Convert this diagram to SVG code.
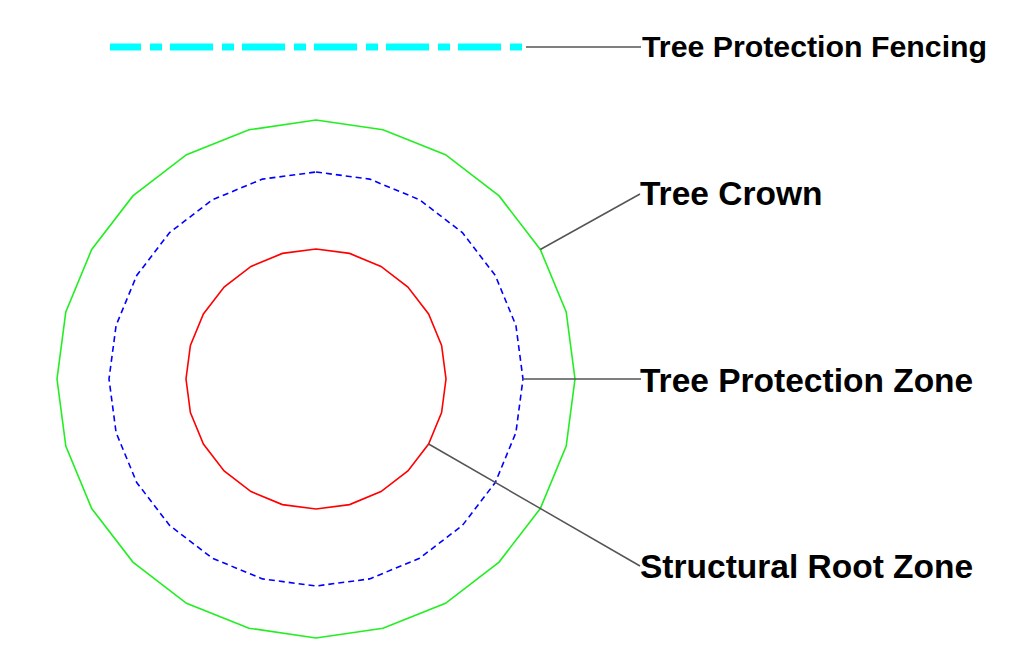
<svg xmlns="http://www.w3.org/2000/svg" width="1018" height="651" viewBox="0 0 1018 651">
<style>
.lbl{font-family:"Liberation Sans",Arial,sans-serif;font-weight:bold;font-size:33.5px;fill:#000}
.lead{stroke:#555;stroke-width:1.5;fill:none}
</style>
<rect width="1018" height="651" fill="#fff"/>
<g id="crown">
<polygon fill="none" stroke="#22ee22" stroke-width="1.6" points="316,120 383,129.8 445.5,154.7 499.1,195.9 540.3,249.5 566.2,312 575,379 566.2,446 540.3,508.5 499.1,562.1 445.5,603.3 383,628.2 316,638 249,628.2 186.5,603.3 132.9,562.1 91.7,508.5 65.8,446 57,379 65.8,312 91.7,249.5 132.9,195.9 186.5,154.7 249,129.8"/>
</g>
<g id="tpz">
<polygon fill="none" stroke="#0000ff" stroke-width="1.6" stroke-dasharray="6,4" points="316,172 369.6,179.1 419.5,199.7 462.4,232.6 495.3,275.5 515.9,325.4 523,379 515.9,432.6 495.3,482.5 462.4,525.4 419.5,558.3 369.6,578.9 316,586 262.4,578.9 212.5,558.3 169.6,525.4 136.7,482.5 116.1,432.6 109,379 116.1,325.4 136.7,275.5 169.6,232.6 212.5,199.7 262.4,179.1"/>
</g>
<g id="srz">
<polygon fill="none" stroke="#ff0000" stroke-width="1.6" points="316,249 349.6,253.4 381,266.4 407.9,287.1 428.6,314 441.6,345.4 446,379 441.6,412.6 428.6,444 407.9,470.9 381,491.6 349.6,504.6 316,509 282.4,504.6 251,491.6 224.1,470.9 203.4,444 190.4,412.6 186,379 190.4,345.4 203.4,314 224.1,287.1 251,266.4 282.4,253.4"/>
</g>
<g id="fencing">
<line x1="110" y1="47" x2="523" y2="47" stroke="#00ffff" stroke-width="7" stroke-dasharray="43,9,12,8" stroke-dashoffset="12"/>
</g>
<g id="connectors">
<line class="lead" x1="526" y1="47" x2="641" y2="47"/>
<line class="lead" x1="540.3" y1="249.5" x2="640" y2="194"/>
<line class="lead" x1="523" y1="379" x2="641" y2="379"/>
<line class="lead" x1="428.6" y1="444" x2="640" y2="566"/>
</g>
<g id="labels">
<text class="lbl" x="642" y="57" style="font-size:30.3px">Tree Protection Fencing</text>
<text class="lbl" x="640" y="205">Tree Crown</text>
<text class="lbl" x="640" y="392">Tree Protection Zone</text>
<text class="lbl" x="640" y="578">Structural Root Zone</text>
</g>
</svg>
